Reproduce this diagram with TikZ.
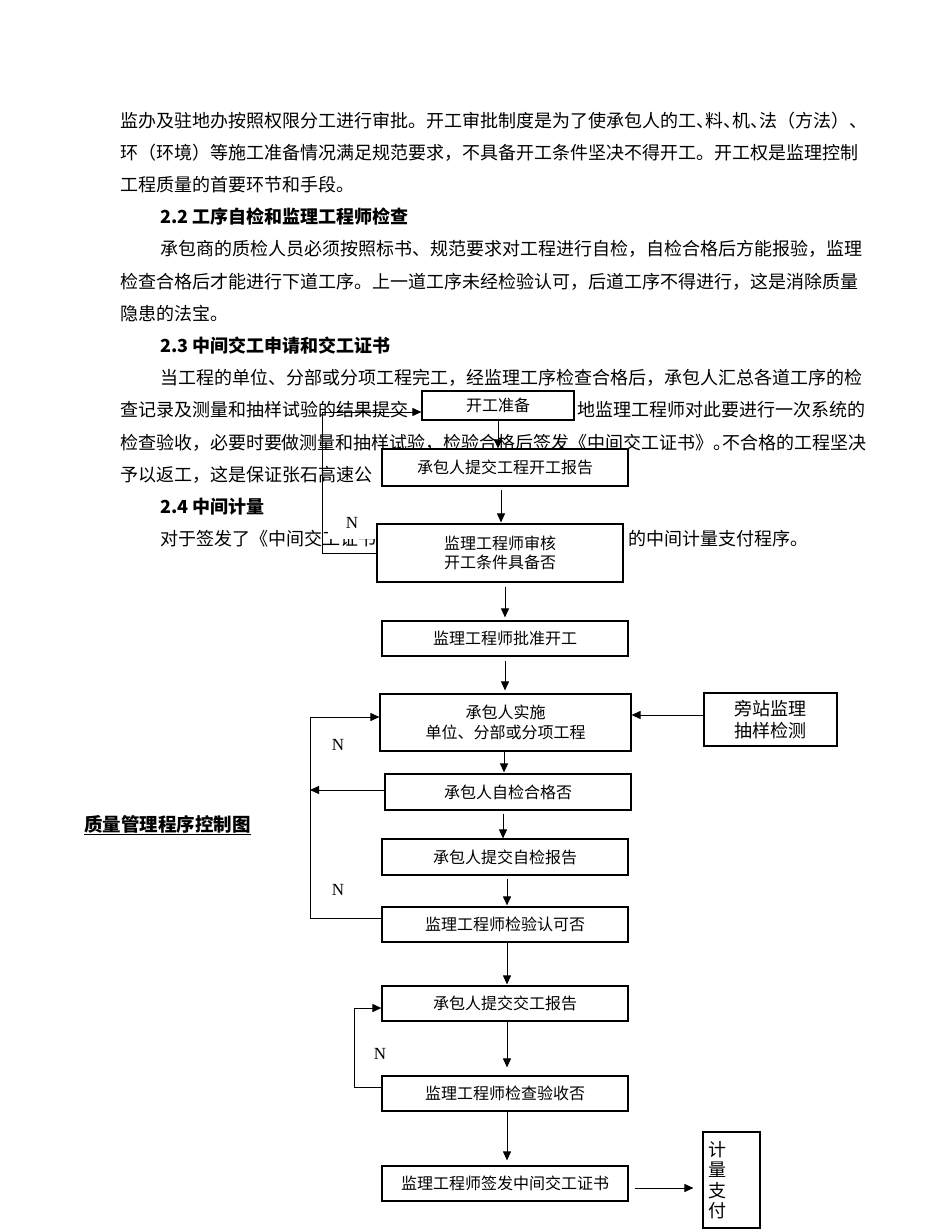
\documentclass[tikz,border=0pt]{standalone}
\usepackage{fontspec}
\setmainfont{Noto Sans CJK SC}
\newfontfamily\serifN{Liberation Serif}
\usetikzlibrary{arrows.meta}
\XeTeXlinebreaklocale "zh"
\XeTeXlinebreakskip=0pt plus 2pt minus 1pt
\tolerance=10000
\hbadness=10000
\newcommand\hp[1]{\makebox[0.5em][l]{#1}}
\begin{document}
\begin{tikzpicture}[x=1pt,y=-1pt,
  txt/.style={anchor=base west, inner sep=0pt, font=\fontsize{18}{22}\selectfont},
  jtxt/.style={txt, text width=#1, align=justify},
  hd/.style={txt, font=\fontsize{18}{22}\selectfont\bfseries},
  box/.style={draw, line width=1.2pt, fill=white, inner sep=0pt, font=\fontsize{16}{19}\selectfont, align=center},
  conn/.style={line width=1pt},
  arr/.style={conn, -{Triangle[length=9pt,width=8pt]}},
  nlab/.style={font=\serifN\fontsize{17}{17}\selectfont, inner sep=0pt}
]
\useasboundingbox (0,0) rectangle (950,1230);
\fill[white] (0,0) rectangle (950,1230);

% body text
\node[jtxt=746pt] (t0) at (120,128) {\parfillskip=0pt 监办及驻地办按照权限分工进行审批。开工审批制度是为了使承包人的工\hp{、}料\hp{、}机\hp{、}法（方法）\hp{、}};
\node[jtxt=746pt] (t1) at (120,160) {\parfillskip=0pt 环（环境）等施工准备情况满足规范要求，不具备开工条件坚决不得开工。开工权是监理控制};
\node[txt] (t2) at (120,192) {工程质量的首要环节和手段。};
\node[hd] (t3) at (160,224) {2.2 工序自检和监理工程师检查};
\node[jtxt=706pt] (t4) at (160,256) {\parfillskip=0pt 承包商的质检人员必须按照标书、规范要求对工程进行自检，自检合格后方能报验，监理};
\node[jtxt=746pt] (t5) at (120,288) {\parfillskip=0pt 检查合格后才能进行下道工序。上一道工序未经检验认可，后道工序不得进行，这是消除质量};
\node[txt] (t6) at (120,320) {隐患的法宝。};
\node[hd] (t7) at (160,352) {2.3 中间交工申请和交工证书};
\node[jtxt=706pt] (t8) at (160,384) {\parfillskip=0pt 当工程的单位、分部或分项工程完工，经监理工序检查合格后，承包人汇总各道工序的检};
\node[txt] (t9a) at (120,416) {查记录及测量和抽样试验的结果提交};
\node[txt, anchor=base east] (t9b) at (866,416) {地监理工程师对此要进行一次系统的};
\node[jtxt=746pt] (t10) at (120,449) {\parfillskip=0pt 检查验收，必要时要做测量和抽样试验，检验合格后签发《中间交工证书》\hp{。}不合格的工程坚决};
\node[txt] (t11) at (120,481) {予以返工，这是保证张石高速公};
\node[hd] (t12) at (160,513) {2.4 中间计量};
\node[txt] (t13a) at (160,545) {对于签发了《中间交工证书》};
\node[txt] (t13b) at (628,545) {的中间计量支付程序。};

\node[anchor=base west, inner sep=0pt, font=\fontsize{18.5}{20}\selectfont\bfseries] (title) at (84,831) {\underline{质量管理程序控制图}};

% boxes
\node[box, minimum width=152pt, minimum height=29pt] (A) at (498,405.5) {开工准备};
\node[box, minimum width=246pt, minimum height=37pt] (B) at (505,467.5) {承包人提交工程开工报告};
\node[box, minimum width=246pt, minimum height=58pt, font=\fontsize{16}{18.5}\selectfont] (C) at (500,553) {监理工程师审核\\开工条件具备否};
\node[box, minimum width=246pt, minimum height=35pt] (D) at (505,638.5) {监理工程师批准开工};
\node[box, minimum width=251pt, minimum height=57pt, font=\fontsize{16}{19.5}\selectfont] (E) at (505.5,722.5) {承包人实施\\单位、分部或分项工程};
\node[box, minimum width=133pt, minimum height=53pt, font=\fontsize{18}{22}\selectfont] (F) at (770.5,719.5) {旁站监理\\抽样检测};
\node[box, minimum width=246pt, minimum height=36pt] (G) at (508,792) {承包人自检合格否};
\node[box, minimum width=246pt, minimum height=36pt] (H) at (505,857) {承包人提交自检报告};
\node[box, minimum width=246pt, minimum height=35pt] (I) at (505,924.5) {监理工程师检验认可否};
\node[box, minimum width=246pt, minimum height=35pt] (J) at (505,1003.5) {承包人提交交工报告};
\node[box, minimum width=246pt, minimum height=35pt] (K) at (505,1093.5) {监理工程师检查验收否};
\node[box, minimum width=246pt, minimum height=35pt] (L) at (505,1183.5) {监理工程师签发中间交工证书};
\node[box, minimum width=57pt, minimum height=96pt, text width=47pt, align=left, font=\fontsize{18}{20.5}\selectfont] (M) at (731.5,1180) {计\\量\\支\\付};

% N labels
\node[nlab, fill=white, minimum width=48pt, minimum height=32pt] (n1) at (352,523) {N};
\node[nlab] (n2) at (338,745) {N};
\node[nlab] (n3) at (338,890) {N};
\node[nlab] (n4) at (380,1054) {N};

% main chain
\draw[arr] (A.south) -- (B.north -| A.south);
\draw[arr, shorten <=3pt, shorten >=1pt] (B.south -| 501,0) -- (C.north -| 501,0);
\draw[arr, shorten <=4pt, shorten >=3pt] (C.south -| 505,0) -- (D.north -| 505,0);
\draw[arr, shorten <=4pt, shorten >=3pt] (D.south -| 505,0) -- (E.north -| 505,0);
\draw[arr, shorten >=1pt] (E.south -| 504,0) -- (G.north -| 504,0);
\draw[arr, shorten <=3pt] (G.south -| 503,0) -- (H.north -| 503,0);
\draw[arr, shorten <=3pt, shorten >=1pt] (H.south -| 507,0) -- (I.north -| 507,0);
\draw[arr, shorten >=1pt] (I.south -| 507,0) -- (J.north -| 507,0);
\draw[arr, shorten >=8pt] (J.south -| 507,0) -- (K.north -| 507,0);
\draw[arr, shorten >=5pt] (K.south -| 507,0) -- (L.north -| 507,0);

% loops
\coordinate (l1a) at (322,553);
\coordinate (l1b) at (322,412);
\draw[arr] (C.west |- l1a) -- (l1a) -- (l1b) -- (A.west |- l1b);

\coordinate (l2t) at (310,717);
\coordinate (l2b) at (310,918);
\coordinate (l2m) at (310,790);
\draw[arr] (I.west |- l2b) -- (l2b) -- (l2t) -- (E.west |- l2t);
\draw[arr] (G.west |- l2m) -- (l2m);

\coordinate (l3t) at (354,1008);
\coordinate (l3b) at (354,1087);
\draw[arr] (K.west |- l3b) -- (l3b) -- (l3t) -- (J.west |- l3t);

\coordinate (fy) at (0,715);
\draw[arr] (F.west |- fy) -- (E.east |- fy);
\coordinate (ly) at (0,1188);
\draw[arr, shorten <=6pt, shorten >=9pt] (L.east |- ly) -- (M.west |- ly);
\end{tikzpicture}
\end{document}
